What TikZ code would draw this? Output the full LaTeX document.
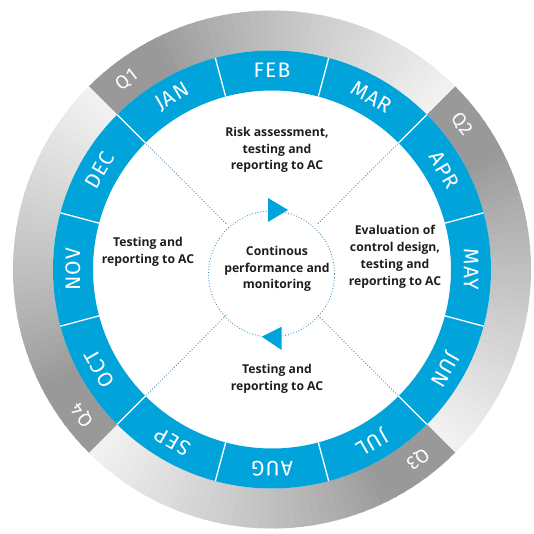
\documentclass[tikz,border=0pt]{standalone}
\usepackage{fontspec}
\setmainfont{Open Sans}
\newfontfamily\monthfont[LetterSpace=6]{Fira Sans}
\definecolor{ringblue}{RGB}{0,163,218}
\definecolor{dotblue}{RGB}{40,130,180}
\definecolor{txt}{RGB}{30,30,30}
\tikzset{
  monthlab/.style={text=white, font=\monthfont\fontsize{21}{21}\selectfont, inner sep=0pt, anchor=center},
  qlab/.style={text=white, font=\monthfont\fontsize{19}{19}\selectfont, inner sep=0pt, anchor=center},
  body/.style={text=txt, align=center, font=\bfseries\fontsize{12.2}{16.8}\selectfont, inner sep=0pt},
  dotline/.style={dotblue, dotted, line width=0.8pt},
  divider/.style={white, line width=1.3pt}
}
\begin{document}
\begin{tikzpicture}[x=1pt,y=1pt]
\fill[white] (-272,-264.5) rectangle (261,269.5);
\useasboundingbox (-272,-264.5) rectangle (261,269.5);
% gray quarter rings with sawtooth shading
\foreach \s in {135,45,-45,-135} {
  \foreach \i in {0,...,44} {
    \pgfmathsetmacro{\a}{\i*2+1}
    \pgfmathsetmacro{\p}{40-35*(max(\a-18,0)/72)^0.85}
    \pgfmathsetmacro{\st}{\s-\i*2}
    \pgfmathsetmacro{\en}{\i==44 ? \s-90 : \s-\i*2-2.6}
    \fill[black!\p] (\st:219) arc[start angle=\st, end angle=\en, radius=219]
      -- (\en:259) arc[start angle=\en, end angle=\st, radius=259] -- cycle;
  }
}
% blue month ring
\fill[ringblue, even odd rule] (0,0) circle (219) (0,0) circle (179);
\foreach \b in {15,45,...,345} {
  \coordinate (di\b) at (\b:179);
  \coordinate (do\b) at (\b:219);
  \draw[divider] (di\b) -- (do\b);
}
% month labels
\foreach \m/\ang in {FEB/90, MAR/60, APR/30, MAY/0, JUN/-30, JUL/-60, AUG/-90, SEP/-120, OCT/-150, NOV/180, DEC/150, JAN/120}
  \node[monthlab, rotate=\ang-90] (m\m) at (\ang:199) {\m};
% quarter labels
\foreach \q/\ang in {Q1/127.5, Q2/37.5, Q3/-52.5, Q4/-142.5}
  \node[qlab, rotate=\ang-90] (\q) at (\ang:239) {\q};
% centre circle and dotted spokes
\node[circle, minimum size=126pt, draw=dotblue, dotted, line width=0.8pt, inner sep=0pt] (hub) at (-0.5,-4.5) {};
\foreach \b in {45,135,225,315} {
  \coordinate (sa\b) at (\b:65);
  \coordinate (sb\b) at (\b:179);
  \draw[dotline] (sa\b) -- (sb\b);
}
% arrow triangles
\fill[ringblue] (-4,71.5) -- (16,59.5) -- (-4,47.5) -- cycle;
\fill[ringblue] (9.7,-57.2) -- (-10.3,-67.2) -- (9.7,-80.5) -- cycle;
% texts
\node[body] (risk) at (5,119.5) {Risk assessment,\\testing and\\reporting to AC};
\node[body] (eval) at (123,12.5) {Evaluation of\\control design,\\testing and\\reporting to AC};
\node[body] (left) at (-124,17.5) {Testing and\\reporting to AC};
\node[body] (centre) at (5,0.5) {Continous\\performance and\\monitoring};
\node[body] (bottom) at (5,-109.5) {Testing and\\reporting to AC};
\end{tikzpicture}
\end{document}
